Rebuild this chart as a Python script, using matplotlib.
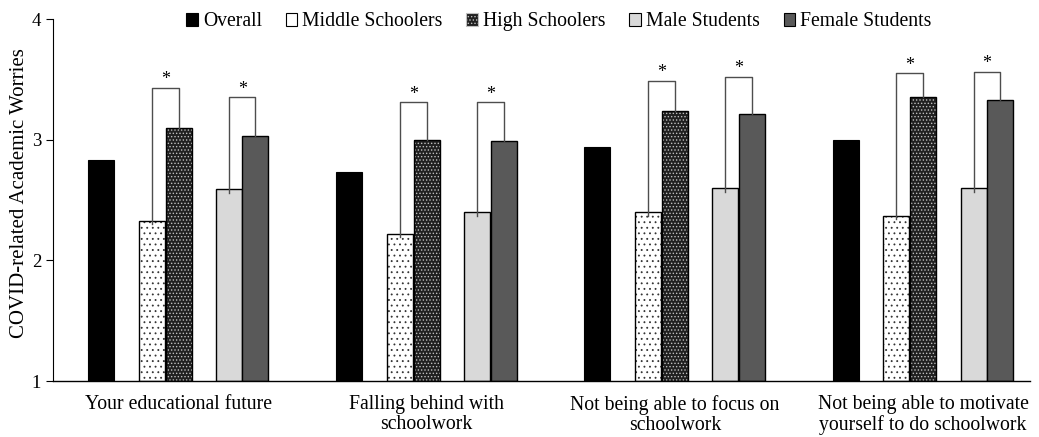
import matplotlib
matplotlib.use("Agg")
import matplotlib.pyplot as plt
from matplotlib.patches import Patch
import numpy as np

plt.rcParams['font.family'] = ['Liberation Serif', 'DejaVu Serif']
plt.rcParams['hatch.linewidth'] = 0.6

categories = ["Your educational future",
              "Falling behind with\nschoolwork",
              "Not being able to focus on\nschoolwork",
              "Not being able to motivate\nyourself to do schoolwork"]
series = ["Overall", "Middle Schoolers", "High Schoolers", "Male Students", "Female Students"]
overall = [2.83, 2.73, 2.94, 3.00]
middle = [2.33, 2.22, 2.40, 2.37]
high = [3.10, 3.00, 3.24, 3.35]
male = [2.59, 2.40, 2.60, 2.60]
female = [3.03, 2.99, 3.21, 3.33]
# significance bracket heights (school level, gender)
bracket_school = [3.43, 3.31, 3.49, 3.55]
bracket_gender = [3.35, 3.31, 3.52, 3.56]

base = 1.0
x = np.arange(len(categories))
w = 0.105
offsets = [-0.312, -0.107, 0.0, 0.204, 0.31]

fig = plt.figure(figsize=(10.39, 4.37), dpi=100)
ax = fig.add_axes([0.051, 0.128, 0.94, 0.8285])

# Overall
ax.bar(x + offsets[0], np.array(overall) - base, w, bottom=base, color='black',
       edgecolor='black', linewidth=0.8, zorder=2)
# Middle schoolers: dotted
ax.bar(x + offsets[1], np.array(middle) - base, w, bottom=base, color='white',
       edgecolor='#333333', hatch='...', linewidth=0, zorder=2)
ax.bar(x + offsets[1], np.array(middle) - base, w, bottom=base, fill=False,
       edgecolor='black', linewidth=1.0, zorder=3)
# High schoolers: dense dark grid
ax.bar(x + offsets[2], np.array(high) - base, w, bottom=base, color='#202020',
       edgecolor='#c0c0c0', hatch='.....', linewidth=0, zorder=2)
ax.bar(x + offsets[2], np.array(high) - base, w, bottom=base, fill=False,
       edgecolor='black', linewidth=1.0, zorder=3)
# Male / Female
ax.bar(x + offsets[3], np.array(male) - base, w, bottom=base, color='#d9d9d9',
       edgecolor='black', linewidth=1.0, zorder=2)
ax.bar(x + offsets[4], np.array(female) - base, w, bottom=base, color='#595959',
       edgecolor='black', linewidth=1.0, zorder=2)

# brackets with stars
for i in range(len(categories)):
    for (lo_off, hi_off, lo_val, hi_val, top) in [
            (offsets[1], offsets[2], middle[i], high[i], bracket_school[i]),
            (offsets[3], offsets[4], male[i], female[i], bracket_gender[i])]:
        x0 = x[i] + lo_off
        x1 = x[i] + hi_off
        ax.plot([x0, x0, x1, x1], [lo_val - 0.03, top, top, hi_val],
                color='#4d4d4d', linewidth=1.0, zorder=4)
        ax.text((x0 + x1) / 2, top + 0.03, '*', ha='center', va='baseline',
                fontsize=13, zorder=5)

# legend proxies
handles = [
    Patch(facecolor='black', edgecolor='black', linewidth=0.8),
    Patch(facecolor='white', edgecolor='black', linewidth=0.8),
    Patch(facecolor='#202020', edgecolor='#c0c0c0', hatch='.....', linewidth=0.8),
    Patch(facecolor='#d9d9d9', edgecolor='black', linewidth=0.8),
    Patch(facecolor='#595959', edgecolor='black', linewidth=0.8),
]
ax.legend(handles, series, loc='center', bbox_to_anchor=(0.518, 0.992), ncol=5,
          frameon=False, fontsize=14.2, handlelength=0.6, handleheight=0.6,
          handletextpad=0.25, columnspacing=1.2, borderaxespad=0)

ax.set_ylim(1, 4)
ax.set_yticks([1, 2, 3, 4])
ax.set_xlim(-0.506, 3.43)
ax.set_xticks(x)
ax.set_xticklabels(categories, fontsize=14.2, linespacing=1.05)
ax.tick_params(axis='x', length=0, pad=10)
ax.tick_params(axis='y', labelsize=13.5, length=5, width=0.8)
ax.set_ylabel('COVID-related Academic Worries', fontsize=15)
ax.yaxis.set_label_coords(-0.025, 0.52)
for s in ['top', 'right']:
    ax.spines[s].set_visible(False)
ax.spines['left'].set_linewidth(0.8)
ax.spines['bottom'].set_linewidth(1.0)

fig.savefig('out.png', dpi=100)
